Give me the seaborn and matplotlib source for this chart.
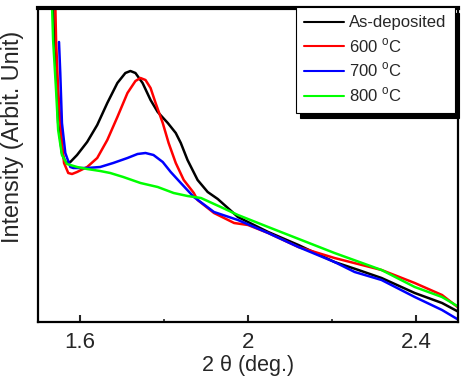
import numpy as np
import pandas as pd
import seaborn as sns
from matplotlib import pyplot as plt

# 2theta (deg.) and intensity (arb. units)
x_asdep = [1.536, 1.538, 1.545, 1.548, 1.557, 1.565, 1.577, 1.593, 1.617, 1.641, 1.665, 1.689,
           1.708, 1.720, 1.732, 1.749, 1.768, 1.785, 1.809, 1.828, 1.840, 1.856, 1.880, 1.904,
           1.928, 1.976, 2.000, 2.048, 2.120, 2.206, 2.263, 2.318, 2.397, 2.462, 2.502]
y_asdep = [322, 282, 232, 199, 169, 160, 160, 167, 180, 197, 219, 239,
           249, 251, 249, 239, 222, 210, 199, 189, 179, 162, 142, 130,
           123, 105, 100, 90, 77, 60, 52, 44, 29, 19, 10]

x_600 = [1.541, 1.543, 1.548, 1.555, 1.562, 1.572, 1.581, 1.593, 1.617, 1.641, 1.665, 1.689,
         1.713, 1.732, 1.744, 1.756, 1.768, 1.780, 1.797, 1.811, 1.828, 1.847, 1.871, 1.880,
         1.919, 1.967, 2.000, 2.048, 2.120, 2.206, 2.318, 2.397, 2.462, 2.502]
y_600 = [322, 282, 232, 189, 159, 149, 148, 150, 155, 164, 182, 205,
         229, 241, 244, 242, 234, 219, 199, 179, 159, 142, 129, 122,
         109, 99, 97, 89, 75, 64, 52, 39, 27, 14]

x_700 = [1.550, 1.553, 1.557, 1.565, 1.577, 1.584, 1.617, 1.648, 1.679, 1.713, 1.737, 1.756,
         1.775, 1.797, 1.816, 1.840, 1.871, 1.919, 1.976, 2.048, 2.120, 2.206, 2.254, 2.318,
         2.397, 2.462, 2.502]
y_700 = [280, 249, 199, 169, 155, 154, 154, 155, 159, 164, 168, 169,
         167, 160, 150, 139, 125, 110, 102, 89, 75, 60, 50, 42,
         25, 12, 2]

x_800 = [1.533, 1.536, 1.543, 1.548, 1.557, 1.569, 1.593, 1.617, 1.648, 1.672, 1.703, 1.744,
         1.785, 1.823, 1.856, 1.888, 1.935, 1.976, 2.048, 2.127, 2.206, 2.318, 2.397, 2.462,
         2.502]
y_800 = [322, 282, 232, 192, 167, 158, 155, 153, 151, 149, 145, 139,
         135, 129, 126, 124, 115, 107, 95, 82, 69, 52, 35, 25,
         15]

labels = ['As-deposited', '600 $^{\\rm o}$C', '700 $^{\\rm o}$C', '800 $^{\\rm o}$C']
colors = ['black', '#ff0000', '#0000ff', '#00ff00']

frames = []
for lab, xs, ys in zip(labels, [x_asdep, x_600, x_700, x_800], [y_asdep, y_600, y_700, y_800]):
    frames.append(pd.DataFrame({'two_theta': xs, 'intensity': ys, 'sample': lab}))
df = pd.concat(frames, ignore_index=True)

sns.set_style('white')
plt.rcParams['font.family'] = ['Liberation Sans', 'DejaVu Sans']
plt.rcParams['mathtext.fontset'] = 'custom'
plt.rcParams['mathtext.rm'] = 'Liberation Sans'

fig = plt.figure(figsize=(4.65, 3.8), dpi=100)
ax = fig.add_axes([38 / 465, 58 / 380, 420 / 465, 314 / 380])

sns.lineplot(data=df, x='two_theta', y='intensity', hue='sample', palette=colors,
             hue_order=labels, sort=False, linewidth=1.8, ax=ax)

ax.set_xlim(1.5, 2.5)
ax.set_ylim(0, 314)
ax.set_xticks([1.6, 2.0, 2.4])
ax.set_xticklabels(['1.6', '2', '2.4'])
ax.set_xticks([1.8, 2.2], minor=True)
ax.set_yticks([])
ax.tick_params(axis='x', which='major', direction='in', length=5, width=1.5,
               labelsize=16, pad=7, top=False, bottom=True)
ax.tick_params(axis='x', which='minor', direction='in', length=2.5, width=1.2, bottom=True)

for side in ['left', 'right', 'bottom']:
    ax.spines[side].set_linewidth(1.6)
    ax.spines[side].set_color('black')
ax.spines['top'].set_linewidth(3)
ax.spines['top'].set_color('black')

ax.set_xlabel('2 θ (deg.)', fontsize=15.5, labelpad=2)
ax.set_ylabel('Intensity (Arbit. Unit)', fontsize=16.8)
ax.yaxis.set_label_coords(-0.034, 0.59)

leg = ax.legend(loc='upper right', bbox_to_anchor=(0.993, 1.003), borderaxespad=0,
                fontsize=12, frameon=True, fancybox=False,
                shadow={'color': 'black', 'alpha': 1, 'ox': 3, 'oy': -4},
                handlelength=2.4, handletextpad=0.3, labelspacing=0.36,
                borderpad=0.5)
leg.get_frame().set_edgecolor('black')
leg.get_frame().set_linewidth(0.8)
for line in leg.get_lines():
    line.set_linewidth(1.5)

fig.savefig('out.png', dpi=100)
